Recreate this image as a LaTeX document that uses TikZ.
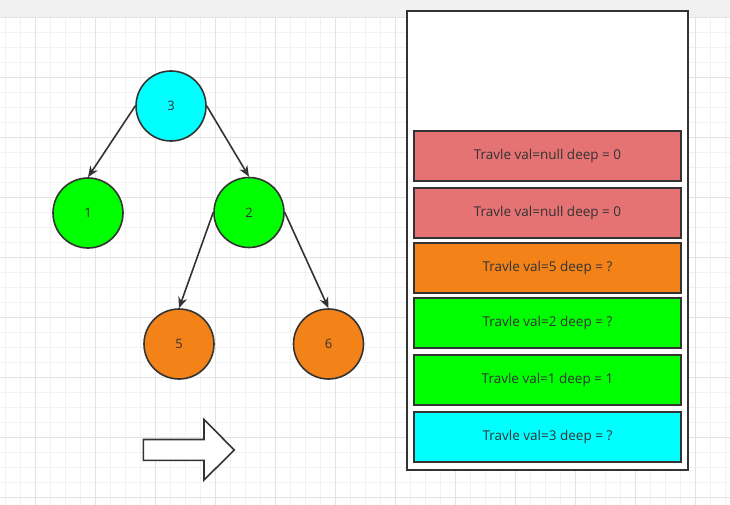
\documentclass[tikz,border=0pt]{standalone}
\usepackage{fontspec}
\setmainfont{Open Sans}
\usetikzlibrary{arrows.meta}
\definecolor{edgec}{HTML}{333333}
\definecolor{txtc}{HTML}{333333}
\definecolor{cyanf}{HTML}{00FFFF}
\definecolor{greenf}{HTML}{00FF00}
\definecolor{orangef}{HTML}{F38219}
\definecolor{redf}{HTML}{E57373}
\definecolor{gridminor}{HTML}{F2F2F2}
\definecolor{gridmajor}{HTML}{E3E3E3}
\definecolor{topbar}{HTML}{F1F1F1}
\tikzset{
  treenode/.style={circle, draw=edgec, line width=1.6pt, minimum size=70pt, inner sep=0pt, text=txtc, font=\fontsize{13}{15}\selectfont},
  stackbox/.style={rectangle, draw=edgec, line width=2pt, minimum width=267pt, minimum height=50pt, inner sep=0pt, text=txtc, font=\fontsize{13.5}{16}\selectfont},
  treeedge/.style={draw=edgec, line width=1.6pt, -{Stealth[length=11pt,width=9pt]}},
}
\begin{document}
\begin{tikzpicture}[x=1pt,y=-1pt]
\useasboundingbox (0,0) rectangle (730,505);
% background
\fill[white] (0,0) rectangle (730,505);
\foreach \x in {5.7,20.7,...,730} \draw[gridminor, line width=0.8pt] (\x,17.3) -- (\x,505);
\foreach \y in {32.3,47.3,...,505} \draw[gridminor, line width=0.8pt] (0,\y) -- (730,\y);
\foreach \x in {35.7,95.7,...,730} \draw[gridmajor, line width=0.8pt] (\x,17.3) -- (\x,505);
\foreach \y in {77.3,137.3,...,505} \draw[gridmajor, line width=0.8pt] (0,\y) -- (730,\y);
\fill[topbar] (0,0) rectangle (730,17);
\draw[gridmajor, line width=0.8pt] (0,17.3) -- (730,17.3);

% tree
\node[treenode, fill=cyanf] (n3) at (171,106) {3};
\node[treenode, fill=greenf] (n1) at (88,213) {1};
\node[treenode, fill=greenf] (n2) at (249,212.5) {2};
\node[treenode, fill=orangef] (n5) at (179,344) {5};
\node[treenode, fill=orangef] (n6) at (328.5,344) {6};
\draw[treeedge] (n3.west) -- (n1.north);
\draw[treeedge] (n3.east) -- (n2.north);
\draw[treeedge] (n2.west) -- (n5.north);
\draw[treeedge] (n2.east) -- (n6.north);

% big arrow
\draw[edgec, line width=1.6pt, fill=white, line join=miter]
  (143.3,439.5) -- (204,439.5) -- (204,419.5) -- (234.3,450) -- (204,480) -- (204,460.3) -- (143.3,460.3) -- cycle;

% stack
\node[draw=edgec, line width=2pt, fill=white, minimum width=281.5pt, minimum height=459pt, inner sep=0pt] (stack) at (547.5,240.5) {};
\node[stackbox, fill=redf] (b1) at (547.5,156) {Travle val=null deep = 0};
\node[stackbox, fill=redf] (b2) at (547.5,212.5) {Travle val=null deep = 0};
\node[stackbox, fill=orangef] (b3) at (547.5,268) {Travle val=5 deep = ?};
\node[stackbox, fill=greenf] (b4) at (547.5,323) {Travle val=2 deep = ?};
\node[stackbox, fill=greenf] (b5) at (547.5,379.5) {Travle val=1 deep = 1};
\node[stackbox, fill=cyanf] (b6) at (547.5,436.5) {Travle val=3 deep = ?};
\end{tikzpicture}
\end{document}
